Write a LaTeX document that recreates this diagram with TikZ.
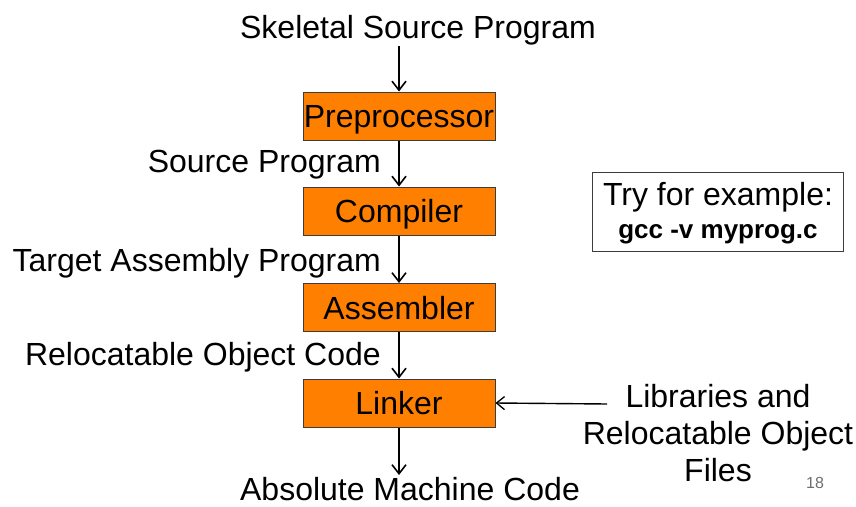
\documentclass[tikz,border=0pt]{standalone}
\usepackage{fontspec}
\setmainfont{Liberation Sans}
\usetikzlibrary{arrows.meta}
\definecolor{boxorange}{RGB}{255,128,0}
\definecolor{boxedge}{RGB}{60,60,60}
\definecolor{pagegray}{RGB}{110,110,110}
\begin{document}
\begin{tikzpicture}[x=1pt,y=-1pt,
  stagebox/.style={draw=boxedge,line width=1pt,fill=boxorange,minimum width=192pt,minimum height=48pt,inner sep=0pt,text height=23pt,text depth=0pt,font=\fontsize{32}{37}\selectfont},
  lbl/.style={inner sep=0pt,font=\fontsize{32}{37}\selectfont},
  flow/.style={draw=black,line width=1.8pt,-{Straight Barb[length=9pt,width=14pt,line width=1.6pt]}},
  sideflow/.style={draw=black,line width=1.4pt,-{Straight Barb[length=8pt,width=13pt,line width=1.3pt]}}]
\useasboundingbox (0,0) rectangle (856,506);
\node[lbl] (skel) at (418,30) {Skeletal Source Program};
\node[stagebox] (pre) at (399,116) {Preprocessor};
\node[stagebox] (comp) at (399,211) {Compiler};
\node[stagebox] (asm) at (399,307.5) {Assembler};
\node[stagebox] (link) at (399,403) {Linker};
\node[lbl,anchor=east] (src) at (381,165) {Source Program};
\node[lbl,anchor=east] (tap) at (381,263) {Target Assembly Program};
\node[lbl,anchor=east] (roc) at (381,357) {Relocatable Object Code};
\node[lbl] (amc) at (410,489) {Absolute Machine Code};
\node[lbl,align=center,font=\fontsize{32}{37}\selectfont] (libs) at (718,433) {Libraries and\\Relocatable Object\\Files};
\node[draw=boxedge,line width=1pt,minimum width=251pt,minimum height=79pt,inner sep=0pt] (try) at (717.5,211.5) {};
\node[lbl] (tryline) at (718,197) {Try for example:};
\node[inner sep=0pt,font=\fontsize{26}{30}\selectfont\bfseries] (cmd) at (718,234) {gcc -v myprog.c};
\node[inner sep=0pt,text=pagegray,font=\fontsize{16}{18}\selectfont] (pg) at (815,483) {18};
\coordinate (skelend) at (399,46);
\coordinate (amcend) at (399,475);
\coordinate (libstart) at (607,404);
\draw[flow] (skelend) -- (pre.north);
\draw[flow] (pre.south) -- (comp.north);
\draw[flow] (comp.south) -- (asm.north);
\draw[flow] (asm.south) -- (link.north);
\draw[flow] (link.south) -- (amcend);
\draw[sideflow] (libstart) -- (link.east);
\end{tikzpicture}
\end{document}
